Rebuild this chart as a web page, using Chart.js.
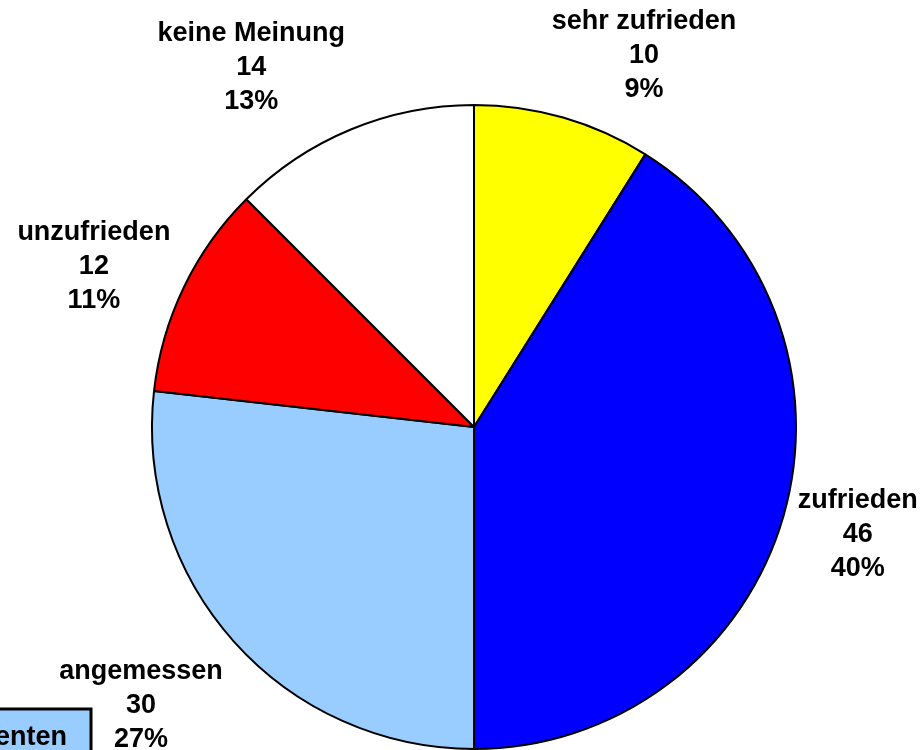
<!DOCTYPE html>
<html>
<head>
<meta charset="utf-8">
<script src="https://cdn.jsdelivr.net/npm/chart.js@4"></script>
<style>
    html, body { margin: 0; padding: 0; background: #ffffff; }
    #wrap { width: 922px; height: 750px; position: relative; }
</style>
</head>
<body>
<div id="wrap"><canvas id="chart" width="922" height="750"></canvas></div>
<script>
// Daten aus dem Bild
const kategorien = ["sehr zufrieden", "zufrieden", "angemessen", "unzufrieden", "keine Meinung"];
const anzahl = [10, 46, 30, 12, 14];
const prozent = [9, 40, 27, 11, 13];
const farben = ["#FFFF00", "#0000FF", "#99CCFF", "#FF0000", "#FFFFFF"];
const legendenText = "Studenten";

const schrift = "bold 27px 'Liberation Sans', Arial, sans-serif";
const zeilenHoehe = 34;

// Beschriftungen außerhalb der Segmente (wie in Excel)
const beschriftungPlugin = {
    id: "beschriftung",
    afterDatasetsDraw(chart) {
        const ctx = chart.ctx;
        const meta = chart.getDatasetMeta(0);
        ctx.save();
        ctx.font = schrift;
        ctx.fillStyle = "#000000";
        ctx.textAlign = "center";
        ctx.textBaseline = "middle";
        meta.data.forEach((arc, i) => {
            const zeilen = [kategorien[i], String(anzahl[i]), prozent[i] + "%"];
            const w = Math.max(...zeilen.map(z => ctx.measureText(z).width));
            const h = zeilen.length * zeilenHoehe;
            const mitte = (arc.startAngle + arc.endAngle) / 2;
            const r = arc.outerRadius + 15;
            const px = arc.x + Math.cos(mitte) * r;
            const py = arc.y + Math.sin(mitte) * r;
            const s = Math.sin(mitte);
            const fx = Math.max(-1, Math.min(1, Math.cos(mitte) * 3));
            const fy = Math.abs(s) > 0.6 ? Math.sign(s) : s * 0.8;
            const cx = px + fx * w / 2;
            const cy = py + fy * h / 2 + 3;
            zeilen.forEach((z, k) => {
                ctx.fillText(z, cx, cy - h / 2 + zeilenHoehe * (k + 0.5));
            });
        });
        ctx.restore();
    },
    afterDraw(chart) {
        // abgeschnittener Legendenkasten unten links
        const ctx = chart.ctx;
        ctx.save();
        ctx.fillStyle = "#99CCFF";
        ctx.strokeStyle = "#000000";
        ctx.lineWidth = 3;
        ctx.fillRect(-10, 709, 101, 60);
        ctx.strokeRect(-10, 709, 101, 60);
        ctx.font = schrift;
        ctx.fillStyle = "#000000";
        ctx.textAlign = "right";
        ctx.textBaseline = "middle";
        ctx.fillText(legendenText, 67, 738);
        ctx.restore();
    }
};

new Chart(document.getElementById("chart").getContext("2d"), {
    type: "pie",
    data: {
        labels: kategorien,
        datasets: [{
            data: anzahl,
            backgroundColor: farben,
            borderColor: "#000000",
            borderWidth: 2
        }]
    },
    options: {
        responsive: false,
        animation: false,
        layout: {
            padding: { left: 151, right: 125, top: 104, bottom: 0 }
        },
        plugins: {
            legend: { display: false },
            tooltip: { enabled: false }
        }
    },
    plugins: [beschriftungPlugin]
});
</script>
</body>
</html>
